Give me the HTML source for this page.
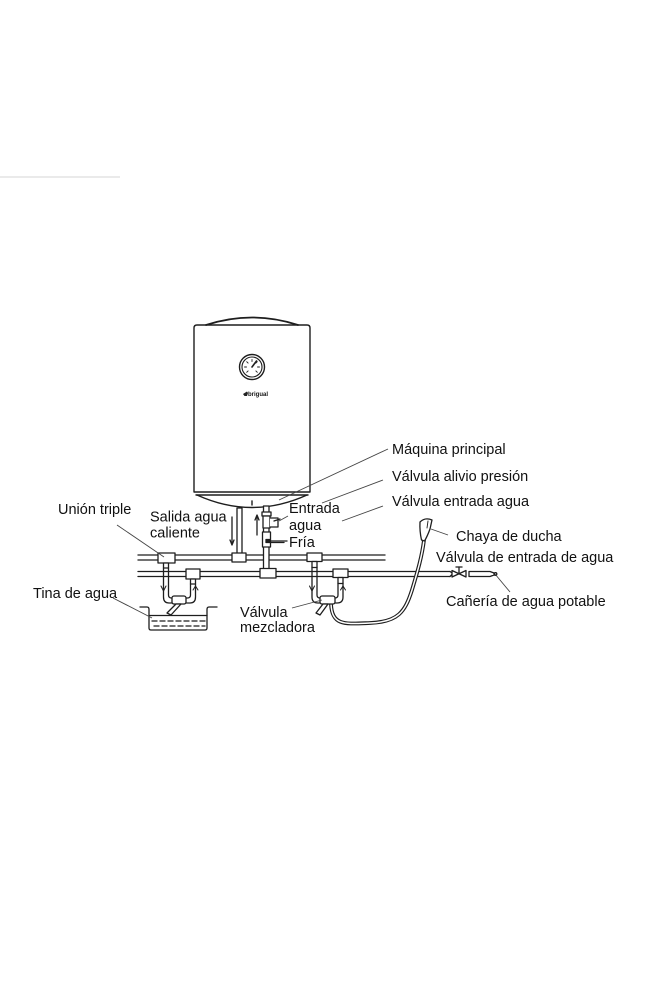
<!DOCTYPE html>
<html>
<head>
<meta charset="utf-8">
<style>
html,body{margin:0;padding:0;background:#fff;}
body{width:646px;height:1000px;overflow:hidden;position:relative;}
svg{position:absolute;left:0;top:0;}
text{font-family:"Liberation Sans",Arial,sans-serif;font-size:14.5px;fill:#111;}
</style>
</head>
<body>
<svg width="646" height="1000" viewBox="0 0 646 1000" xmlns="http://www.w3.org/2000/svg">
  <!-- faint top-left line -->
  <line x1="0" y1="177" x2="120" y2="177" stroke="#e4e4e4" stroke-width="1.5"/>

  <g fill="none" stroke="#1e1e1e" stroke-width="1.4" stroke-linecap="round" stroke-linejoin="round">
    <!-- Tank -->
    <path d="M194,492 V328 Q194,325 197,325 H307 Q310,325 310,328 V492 Z" fill="#fff"/>
    <path d="M206,325 Q252,310 298,325" stroke-width="1.8"/>
    <line x1="196" y1="495" x2="308" y2="495"/>
    <path d="M197,495 Q252,520 307,495"/>
    <line x1="252" y1="501" x2="252" y2="505"/>
    <!-- gauge -->
    <circle cx="252" cy="367" r="12.5"/>
    <circle cx="252" cy="367" r="10" stroke-width="1.1"/>
    <g stroke-width="0.9">
      <line x1="244.5" y1="367" x2="246.5" y2="367"/>
      <line x1="246.7" y1="361.7" x2="248.1" y2="363.1"/>
      <line x1="252" y1="359.5" x2="252" y2="361.5"/>
      <line x1="257.3" y1="361.7" x2="255.9" y2="363.1"/>
      <line x1="259.5" y1="367" x2="257.5" y2="367"/>
      <line x1="246.7" y1="372.3" x2="248.1" y2="370.9"/>
      <line x1="257.3" y1="372.3" x2="255.9" y2="370.9"/>
    </g>
    <line x1="252" y1="367" x2="256.5" y2="361" stroke-width="1.6"/>
  </g>
  <!-- logo -->
  <path d="M243,394 L247,391.5 L248,393 L247,396 L244.5,396 Z" fill="#222"/>
  <text x="248" y="396" style="font-size:6px;font-weight:bold">brigual</text>

  <g fill="none" stroke="#1e1e1e" stroke-width="1.3" stroke-linecap="round" stroke-linejoin="round">
    <!-- Upper pipe -->
    <line x1="138" y1="555" x2="385" y2="555"/>
    <line x1="138" y1="560" x2="385" y2="560"/>
    <!-- Lower pipe -->
    <line x1="138" y1="571.5" x2="450" y2="571.5"/>
    <line x1="138" y1="576.5" x2="450" y2="576.5"/>
    <!-- end valve -->
    <path d="M450,571.5 L453,573.5 L450,576.5"/>
    <path d="M452,570.5 L466,577 L466,570.5 L452,577 Z" fill="#fff"/>
    <line x1="459" y1="573.5" x2="459" y2="567"/>
    <line x1="456" y1="567" x2="462" y2="567"/>
    <path d="M469,571.5 H490 L494,573 L494,575 L490,576.5 H469 Z" fill="#fff"/>
    <circle cx="495.5" cy="574" r="1.3"/>

    <!-- Hot outlet pipe -->
    <rect x="237" y="508" width="5" height="46" fill="#fff"/>
    <!-- hot down arrow -->
    <line x1="232" y1="517" x2="232" y2="544"/>
    <path d="M230,540 L232,545 L234,540" />
    <!-- hot T -->
    <rect x="232" y="553" width="14" height="9" fill="#fff"/>

    <!-- Cold inlet pipe -->
    <rect x="263.5" y="506" width="5.5" height="63" fill="#fff"/>
    <rect x="262" y="512" width="9" height="4" fill="#fff"/>
    <rect x="263" y="516" width="7" height="12" fill="#fff"/>
    <path d="M270,518 H278 V527 H270" fill="#fff"/>
    <line x1="274" y1="521" x2="280" y2="519"/>
    <rect x="262.5" y="532" width="8" height="15" fill="#fff"/>
    <rect x="266" y="539.5" width="4" height="3" fill="#1e1e1e"/>
    <line x1="270" y1="541" x2="287" y2="541"/>
    <line x1="270" y1="542.5" x2="284" y2="542.5"/>
    <!-- cold up arrow -->
    <line x1="257" y1="535" x2="257" y2="516"/>
    <path d="M255,520 L257,515 L259,520"/>
    <!-- cold T -->
    <rect x="260" y="568.5" width="16" height="9.5" fill="#fff"/>

    <!-- Left tees -->
    <rect x="158" y="553" width="17" height="10" fill="#fff"/>
    <rect x="163.5" y="563" width="5" height="5" fill="#fff"/>
    <rect x="186" y="569" width="14" height="10" fill="#fff"/>
    <rect x="190.5" y="579" width="5" height="5" fill="#fff"/>
    <!-- left mixer U -->
    <path d="M163.5,568 V597 Q163.5,603 169,603 H190 Q195.5,603 195.5,597 V584"/>
    <path d="M168.5,568 V595 Q168.5,598 171.5,598 H187.5 Q190.5,598 190.5,595 V584"/>
    <path d="M161,586 L163.5,591 L166,586" stroke-width="1"/>
    <path d="M193,590 L195.5,586 L198,590" stroke-width="1"/>
    <rect x="172" y="596" width="14" height="8" rx="2" fill="#fff"/>
    <path d="M176,604 L181,604 L171,615 L167,613 Z" fill="#fff"/>

    <!-- Right tees -->
    <rect x="307" y="553" width="15" height="8.5" fill="#fff"/>
    <rect x="312" y="561.5" width="5" height="6" fill="#fff"/>
    <rect x="333" y="569" width="15" height="8.5" fill="#fff"/>
    <rect x="338" y="577.5" width="5" height="6" fill="#fff"/>
    <!-- right mixer U -->
    <path d="M312,567 V597 Q312,603 318,603 H337 Q343,603 343,597 V583"/>
    <path d="M317,567 V595 Q317,598 320,598 H335 Q338,598 338,595 V583"/>
    <path d="M309.5,586 L312,591 L314.5,586" stroke-width="1"/>
    <path d="M340.5,590 L343,586 L345.5,590" stroke-width="1"/>

    <!-- Hose (double line) -->
    <path d="M331,604 C332,626 345,624 370,623 C398,622 405,612 412,590 C418,570 422,556 424,540" stroke="#1e1e1e" stroke-width="3.8"/>
    <path d="M331,604 C332,626 345,624 370,623 C398,622 405,612 412,590 C418,570 422,556 424,540" stroke="#fff" stroke-width="1.5"/>
    <rect x="320" y="596" width="15" height="8" rx="2" fill="#fff"/>
    <path d="M323,604 L328,604 L320,615 L316,613 Z" fill="#fff"/>

    <!-- shower head -->
    <path d="M420,522 Q425,517 432,520 L430,529 Q427,537 424.5,541 L421.5,540 Q419.5,531 420,522 Z" fill="#fff"/>
    <line x1="428" y1="521" x2="427" y2="528" stroke-width="0.9"/>

    <!-- Tub -->
    <path d="M140,607 H147 Q149,607 149,609.5 V628 Q149,630 151,630 H205 Q207,630 207,628 V609.5 Q207,607 209,607 H217"/>
    <line x1="149" y1="615.5" x2="207" y2="615.5"/>
    <line x1="152" y1="621" x2="205" y2="621" stroke-dasharray="5,3"/>
    <line x1="154" y1="626" x2="205" y2="626" stroke-dasharray="5,3"/>
  </g>

  <!-- leader lines -->
  <g stroke="#444" stroke-width="0.9" fill="none">
    <line x1="388" y1="449" x2="279" y2="500"/>
    <line x1="383" y1="480" x2="322" y2="503"/>
    <line x1="383" y1="506" x2="342" y2="521"/>
    <line x1="288" y1="516" x2="279" y2="521"/>
    <line x1="448" y1="535" x2="431" y2="529"/>
    <line x1="510" y1="592" x2="495" y2="574"/>
    <line x1="117" y1="525" x2="164" y2="557"/>
    <line x1="113" y1="598" x2="152" y2="618"/>
    <line x1="292" y1="608" x2="322" y2="600"/>
  </g>

  <!-- labels -->
  <text x="392" y="454">Máquina principal</text>
  <text x="392" y="481">Válvula alivio presión</text>
  <text x="392" y="506">Válvula entrada agua</text>
  <text x="289" y="513">Entrada</text>
  <text x="289" y="530">agua</text>
  <text x="289" y="547">Fría</text>
  <text x="456" y="541">Chaya de ducha</text>
  <text x="436" y="562">Válvula de entrada de agua</text>
  <text x="446" y="606">Cañería de agua potable</text>
  <text x="58" y="514">Unión triple</text>
  <text x="150" y="521.5">Salida agua</text>
  <text x="150" y="537.5">caliente</text>
  <text x="33" y="598">Tina de agua</text>
  <text x="240" y="617">Válvula</text>
  <text x="240" y="632">mezcladora</text>
</svg>
</body>
</html>
